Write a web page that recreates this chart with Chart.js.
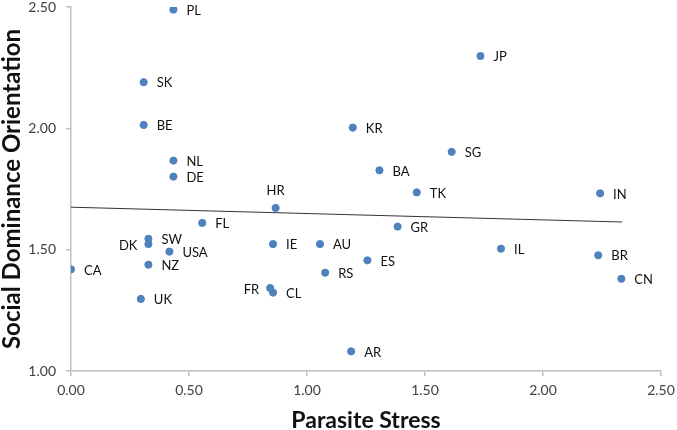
<!DOCTYPE html>
<html>
<head>
<meta charset="utf-8">
<script src="https://cdn.jsdelivr.net/npm/chart.js@4/dist/chart.umd.min.js"></script>
<style>
  html, body { margin: 0; padding: 0; background: #fff; }
  #wrap { width: 677px; height: 430px; }
</style>
</head>
<body>
<div id="wrap"><canvas id="scatterChart" width="677" height="430"></canvas></div>
<script>
const countries = ["PL", "SK", "BE", "NL", "DE", "JP", "KR", "SG", "BA", "TK", "IN", "HR", "FL", "GR",
  "SW", "DK", "USA", "IE", "AU", "IL", "BR", "CA", "NZ", "ES", "RS", "CN", "UK", "FR", "CL", "AR"];
const parasiteStress = [0.434, 0.308, 0.308, 0.434, 0.434, 1.735, 1.194, 1.613, 1.307, 1.465, 2.242, 0.867, 0.556, 1.384,
  0.328, 0.328, 0.417, 0.856, 1.055, 1.822, 2.234, 0.0, 0.328, 1.256, 1.077, 2.332, 0.296, 0.844, 0.856, 1.187];
const sdo = [2.489, 2.190, 2.014, 1.867, 1.801, 2.298, 2.003, 1.903, 1.827, 1.736, 1.732, 1.672, 1.610, 1.595,
  1.545, 1.523, 1.492, 1.523, 1.523, 1.504, 1.477, 1.419, 1.438, 1.456, 1.405, 1.380, 1.297, 1.342, 1.323, 1.081];

const trendX = [0, 2.335];
const trendY = [1.675, 1.614];

const xTicks = [0, 0.5, 1.0, 1.5, 2.0, 2.5];
const yTicks = [1.0, 1.5, 2.0, 2.5];

// where a label goes when it is not to the right of its dot
const labelSide = { HR: "above", DK: "left", FR: "left" };

const FONT = "Lato, 'Open Sans', sans-serif";

const pointLabels = {
  id: "pointLabels",
  afterDatasetsDraw(chart) {
    const ctx = chart.ctx;
    const meta = chart.getDatasetMeta(0);
    ctx.save();
    ctx.font = "13px " + FONT;
    ctx.fillStyle = "#111";
    meta.data.forEach((pt, i) => {
      const name = countries[i];
      const side = labelSide[name];
      if (side === "above") {
        ctx.textAlign = "center";
        ctx.textBaseline = "middle";
        ctx.fillText(name, pt.x, pt.y - 17);
      } else if (side === "left") {
        ctx.textAlign = "right";
        ctx.textBaseline = "middle";
        ctx.fillText(name, pt.x - 11, pt.y + 2);
      } else {
        ctx.textAlign = "left";
        ctx.textBaseline = "middle";
        ctx.fillText(name, pt.x + 13, pt.y + 1);
      }
    });
    ctx.restore();
  }
};

const ctx = document.getElementById("scatterChart").getContext("2d");
new Chart(ctx, {
  type: "scatter",
  data: {
    datasets: [{
      label: "countries",
      data: parasiteStress.map((x, i) => ({ x, y: sdo[i] })),
      backgroundColor: "#4F81BD",
      borderColor: "#4F81BD",
      pointRadius: 3.6,
      pointHoverRadius: 3.6,
      order: 1
    }, {
      label: "trend",
      type: "line",
      data: trendX.map((x, i) => ({ x, y: trendY[i] })),
      borderColor: "#333",
      borderWidth: 1,
      pointRadius: 0,
      fill: false,
      order: 2
    }]
  },
  options: {
    responsive: false,
    animation: false,
    layout: { padding: 0 },
    plugins: { legend: { display: false }, tooltip: { enabled: false } },
    scales: {
      x: {
        type: "linear",
        min: 0, max: 2.5,
        afterBuildTicks: axis => { axis.ticks = xTicks.map(v => ({ value: v })); },
        afterFit: axis => { axis.height = 59; axis.paddingLeft = 0; axis.paddingRight = 16; },
        border: { color: "#bfbfbf", width: 1.5 },
        grid: { display: true, drawOnChartArea: false, drawTicks: true, tickLength: 5, color: "#bfbfbf", lineWidth: 1.5 },
        ticks: {
          color: "#404040",
          font: { family: FONT, size: 14 },
          padding: 6,
          callback: v => v.toFixed(2)
        },
        title: {
          display: true,
          text: "Parasite Stress",
          color: "#111",
          font: { family: FONT, size: 23, weight: "bold", lineHeight: 0.8 },
          padding: { top: 12, bottom: 0 }
        }
      },
      y: {
        type: "linear",
        min: 1, max: 2.5,
        afterBuildTicks: axis => { axis.ticks = yTicks.map(v => ({ value: v })); },
        afterFit: axis => { axis.width = 71; axis.paddingTop = 7; axis.paddingBottom = 0; },
        border: { color: "#bfbfbf", width: 1.5 },
        grid: { display: true, drawOnChartArea: false, drawTicks: true, tickLength: 5, color: "#bfbfbf", lineWidth: 1.5 },
        ticks: {
          color: "#404040",
          font: { family: FONT, size: 14 },
          padding: 10,
          callback: v => v.toFixed(2)
        },
        title: {
          display: true,
          text: "Social Dominance Orientation",
          color: "#111",
          font: { family: FONT, size: 24, weight: "bold", lineHeight: 1.0 },
          padding: { top: 0, bottom: 5 }
        }
      }
    }
  },
  plugins: [pointLabels]
});
</script>
</body>
</html>
